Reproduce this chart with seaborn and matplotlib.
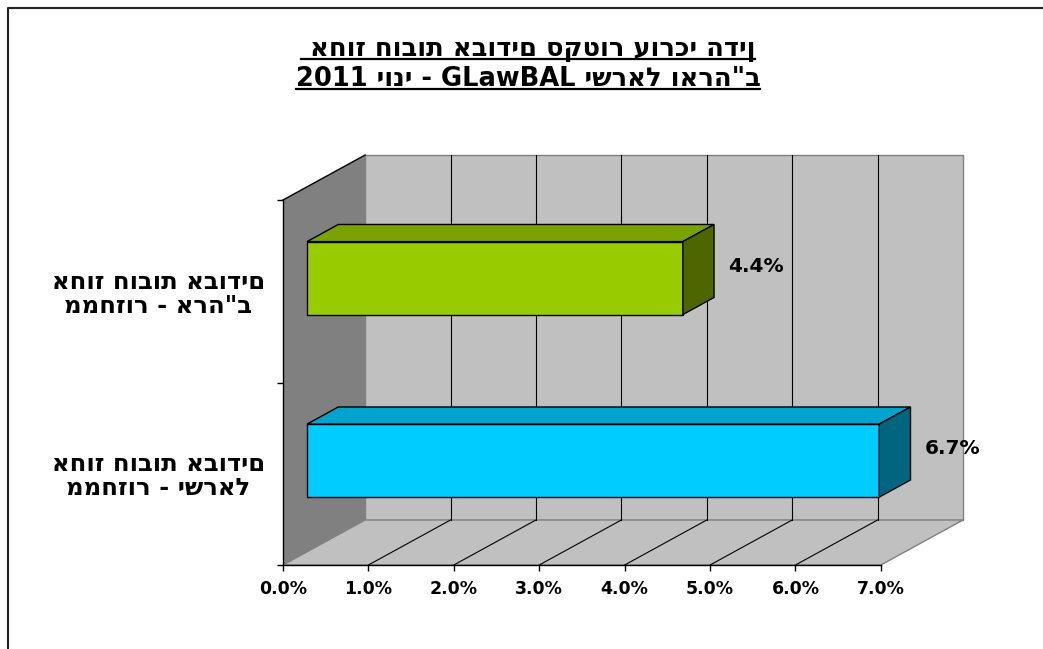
import re
import numpy as np
import pandas as pd
import matplotlib
matplotlib.use("Agg")
import matplotlib.pyplot as plt
import seaborn as sns
from matplotlib.patches import Polygon, Rectangle
from matplotlib.transforms import Affine2D
from matplotlib.lines import Line2D

# ---------------- data ----------------
categories = ['אחוז חובות אבודים\nממחזור - ארה"ב', 'אחוז חובות אבודים\nממחזור - ישראל']
values = [4.4, 6.7]
x_ticks = [0, 1, 2, 3, 4, 5, 6, 7]
x_tick_labels = ["0.0%", "1.0%", "2.0%", "3.0%", "4.0%", "5.0%", "6.0%", "7.0%"]
title_lines = ['אחוז חובות אבודים סקטור עורכי הדין ', 'ישראל וארה"ב GLawBAL - יוני 2011']
front_colors = ["#99CC00", "#00CCFF"]
top_colors = ["#7AA300", "#00A3CC"]
side_colors = ["#4D6600", "#006680"]

plt.rcParams["font.family"] = ["DejaVu Sans", "Liberation Sans"]

HEB = "\u0590-\u05FF"


def visual(s):
    """RTL paragraph reordering to visual (left-to-right) glyph order."""
    lines = []
    for line in s.split("\n"):
        toks = re.findall(r"[A-Za-z0-9.%]+|[^A-Za-z0-9.%]+", line)
        out = []
        for t in reversed(toks):
            out.append(t if re.match(r"[A-Za-z0-9]", t) else t[::-1])
        lines.append("".join(out))
    return "\n".join(lines)


def for_renderer(s):
    """The text engine reverses each Hebrew run itself; pre-compensate so the
    final glyph order equals the RTL visual order."""
    v = visual(s)
    pat = re.compile(rf"[{HEB}][{HEB}\s\"'\-]*[{HEB}]|[{HEB}]")
    return "\n".join(pat.sub(lambda m: m.group(0)[::-1], ln) for ln in v.split("\n"))


W, H = 1043, 649
fig = plt.figure(figsize=(W / 100, H / 100), dpi=100)
fig.patch.set_facecolor("white")

# front plane: x 0..7 -> px 283..880 ; y -0.5..1.5 -> px 200..565
XMAX = x_ticks[-1]
px_per_x = (880 - 283) / XMAX
px_per_y = (565 - 200) / 2.0
DX = 82 / px_per_x          # depth offset (back wall) in data units
DY = -45 / px_per_y

ax = fig.add_axes([283 / W, 1 - 565 / H, (963 - 283) / W, (565 - 155) / H])
ax.set_facecolor("none")

df = pd.DataFrame({"category": categories, "value": values})
sns.barplot(data=df, x="value", y="category", hue="category", palette=front_colors,
            orient="h", width=0.4, saturation=1, edgecolor="black", linewidth=1,
            legend=False, ax=ax, zorder=5)

ax.set_xlim(0, XMAX + DX)
ax.set_ylim(1.5, -0.5 + DY)

# ---------------- 3D box (walls & floor) ----------------
ax.add_patch(Rectangle((DX, -0.5 + DY), XMAX, 2.0, fc="#C0C0C0", ec="#808080",
                       lw=1, zorder=0, clip_on=False))
ax.add_patch(Polygon([(0, -0.5), (DX, -0.5 + DY), (DX, 1.5 + DY), (0, 1.5)],
                     closed=True, fc="#808080", ec="none", zorder=0.5, clip_on=False))
ax.add_patch(Polygon([(0, 1.5), (XMAX, 1.5), (XMAX + DX, 1.5 + DY), (DX, 1.5 + DY)],
                     closed=True, fc="#C0C0C0", ec="#808080", lw=1, zorder=0.5, clip_on=False))
ax.plot([0, DX], [-0.5, -0.5 + DY], color="black", lw=1, zorder=1, clip_on=False)
for t in x_ticks[1:-1]:
    ax.plot([t + DX, t + DX], [-0.5 + DY, 1.5 + DY], color="black", lw=0.8, zorder=1)
    ax.plot([t, t + DX], [1.5, 1.5 + DY], color="black", lw=0.8, zorder=1)

# ---------------- 3D bars ----------------
F = 24 / 82      # position of the bar front face within the depth
BD = 0.38        # bar depth as fraction of full depth
ox, oy = F * DX, F * DY
bdx, bdy = BD * DX, BD * DY
for i, cont in enumerate(ax.containers):
    for bar in cont:
        x0, y0 = bar.get_x(), bar.get_y()
        w, h = bar.get_width(), bar.get_height()
        bar.set_transform(Affine2D().translate(ox, oy) + ax.transData)
        bar.set_clip_on(False)
        top = [(x0, y0), (x0 + w, y0), (x0 + w + bdx, y0 + bdy), (x0 + bdx, y0 + bdy)]
        side = [(x0 + w, y0), (x0 + w, y0 + h), (x0 + w + bdx, y0 + h + bdy), (x0 + w + bdx, y0 + bdy)]
        for poly, col in ((top, top_colors[i]), (side, side_colors[i])):
            ax.add_patch(Polygon([(px + ox, py + oy) for px, py in poly], closed=True,
                                 fc=col, ec="black", lw=1, zorder=5, clip_on=False))
        ax.annotate(f"{w:.1f}%", xy=(x0 + w, y0 + h / 2), xytext=(69, 25),
                    textcoords="offset pixels", ha="left", va="center",
                    fontsize=14.5, fontweight="bold", zorder=6)

# ---------------- axes ----------------
ax.set_xlabel("")
ax.set_ylabel("")
for s in ("top", "right"):
    ax.spines[s].set_visible(False)
ax.spines["left"].set_bounds(-0.5, 1.5)
ax.spines["bottom"].set_bounds(0, XMAX)
for s in ("left", "bottom"):
    ax.spines[s].set_color("black")
    ax.spines[s].set_linewidth(1)
    ax.spines[s].set_zorder(2)

ax.set_xticks(x_ticks, labels=x_tick_labels)
ax.tick_params(axis="x", direction="out", length=4, width=1, pad=7, labelsize=12.5)
for lbl in ax.get_xticklabels():
    lbl.set_fontweight("bold")

ax.set_yticks([-0.5, 0.5, 1.5], labels=["", "", ""])
ax.tick_params(axis="y", which="major", direction="out", length=4, width=1)
ax.set_yticks([0, 1], labels=[for_renderer(c) for c in categories], minor=True)
ax.tick_params(axis="y", which="minor", length=0, pad=13, labelsize=17.5)
for lbl in ax.get_yticklabels(minor=True):
    lbl.set_fontweight("bold")
    lbl.set_multialignment("center")
    lbl.set_linespacing(1.0)

# ---------------- title with underline ----------------
title_texts = []
for k, line in enumerate(title_lines):
    t = fig.text(528 / W, 1 - (56 + 30 * k) / H, for_renderer(line), ha="center",
                 va="baseline", fontsize=18.5, fontweight="bold")
    title_texts.append(t)
fig.canvas.draw()
r = fig.canvas.get_renderer()
for k, t in enumerate(title_texts):
    bb = t.get_window_extent(renderer=r)
    yline = (H - (56 + 30 * k) - 3) / H
    fig.add_artist(Line2D([bb.x0 / W, bb.x1 / W], [yline, yline], transform=fig.transFigure,
                          color="black", lw=1.6))

# outer border
fig.add_artist(Line2D([8 / W, 8 / W, 1.0], [-0.01, 1 - 8 / H, 1 - 8 / H],
                      transform=fig.transFigure, color="#222222", lw=1.5))

fig.savefig("out.png", dpi=100, facecolor="white")
